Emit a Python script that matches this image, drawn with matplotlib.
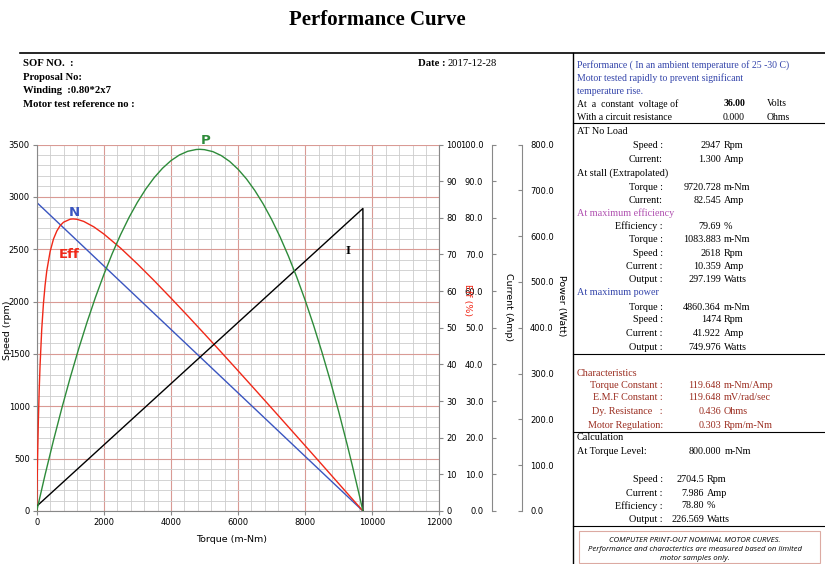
import numpy as np
import matplotlib
matplotlib.use("Agg")
import matplotlib.pyplot as plt
from matplotlib.lines import Line2D
from matplotlib.patches import Rectangle
from matplotlib.ticker import FormatStrFormatter

# speed line (rpm) and current line (A) vs torque (m-Nm)
speed_torque = [0, 9720.728]
speed_rpm = [2947, 0]
current_torque = [0, 9720.728, 9720.728]
current_amp = [1.3, 82.545, 0]

# efficiency curve (%)
eff_torque = [0, 5, 10, 25, 50, 75, 100, 150, 200, 250, 300, 400, 500, 600, 700, 800, 1000, 1084,
              1200, 1400, 1700, 2000, 2500, 3000, 3500, 4000, 4500, 5000, 5500, 6000, 6500, 7000,
              7500, 8000, 8500, 9000, 9400, 9720.728]
eff_pct = [0, 3.19, 6.19, 14.17, 24.8, 33.11, 39.7, 49.58, 56.5, 61.6, 65.5, 70.8, 74.21, 76.4,
           77.88, 78.80, 79.63, 79.69, 79.59, 79.02, 77.54, 75.58, 71.73, 67.42, 62.85, 58.10,
           53.25, 48.31, 43.31, 38.27, 33.19, 28.08, 22.95, 17.81, 12.65, 7.47, 3.33, 0]

# output power curve (W)
power_torque = [0, 250, 500, 750, 1000, 1250, 1500, 1750, 2000, 2250, 2500, 2750, 3000, 3250,
                3500, 3750, 4000, 4250, 4500, 4750, 4860, 5000, 5250, 5500, 5750, 6000, 6250,
                6500, 6750, 7000, 7250, 7500, 7750, 8000, 8250, 8500, 8750, 9000, 9250, 9400,
                9600, 9720.728]
power_w = [0, 75.2, 146.4, 213.6, 276.9, 336.2, 391.5, 442.9, 490.2, 533.7, 573.1, 608.6, 640.1,
           667.6, 691.2, 710.8, 726.5, 738.2, 745.9, 749.6, 750.0, 749.3, 745.2, 737.0, 724.9,
           708.7, 688.7, 664.6, 636.6, 604.6, 568.7, 528.7, 484.9, 437.0, 385.2, 329.4, 269.7,
           205.9, 138.2, 95.7, 36.8, 0]

W, H = 825, 564
def fx(x):
    return x / W
def fy(y):
    return 1 - y / H

serif = "Liberation Serif"
sans = "DejaVu Sans"
gray = "#888888"

fig = plt.figure(figsize=(W / 100, H / 100), dpi=100)

x0, x1, y0, y1 = 36.7, 439.4, 511, 144.5
ax = fig.add_axes([fx(x0), fy(y0), fx(x1) - fx(x0), fy(y1) - fy(y0)])
ax.set_xlim(0, 12000)
ax.set_ylim(0, 3500)
ax.set_xticks(np.arange(0, 12001, 2000))
ax.set_yticks(np.arange(0, 3501, 500))
ax.set_xticks(np.arange(0, 12001, 400), minor=True)
ax.set_yticks(np.arange(0, 3501, 100), minor=True)
ax.grid(which="minor", color="#cccccc", lw=0.6)
ax.grid(which="major", color="#d99a94", lw=0.8)
ax.set_axisbelow(True)
ax.tick_params(which="minor", length=0)
ax.tick_params(which="major", length=3, color=gray, labelsize=6, pad=2)
ax.spines["top"].set_visible(False)
for s in ["left", "bottom", "right"]:
    ax.spines[s].set_color(gray)
    ax.spines[s].set_linewidth(0.8)
ax.plot(speed_torque, speed_rpm, color="#3a55c0", lw=1.0)

# efficiency axis
ax2 = ax.twinx()
ax2.set_ylim(0, 100)
ax2.set_yticks(np.arange(0, 101, 10))
ax2.tick_params(length=3, color=gray, labelsize=6, pad=2)
for s in ax2.spines.values():
    s.set_visible(False)
ax2.plot(eff_torque, eff_pct, color="#f02818", lw=1.0)

# current axis
ax3 = ax.twinx()
ax3.set_ylim(0, 100)
ax3.set_yticks(np.arange(0, 101, 10))
ax3.yaxis.set_major_formatter(FormatStrFormatter("%.1f"))
ax3.yaxis.set_ticks_position("left")
for s in ax3.spines.values():
    s.set_visible(False)
ax3.spines["left"].set_visible(True)
ax3.spines["left"].set_position(("axes", (491.7 - x0) / (x1 - x0)))
ax3.spines["left"].set_color(gray)
ax3.spines["left"].set_linewidth(0.8)
ax3.tick_params(direction="in", length=3, color=gray, labelsize=6, pad=6)
ax3.plot(current_torque, current_amp, color="black", lw=1.0)

# power axis (labels)
ax4 = ax.twinx()
ax4.set_ylim(0, 800)
ax4.set_yticks(np.arange(0, 801, 100))
ax4.yaxis.set_major_formatter(FormatStrFormatter("%.1f"))
for s in ax4.spines.values():
    s.set_visible(False)
ax4.spines["right"].set_visible(True)
ax4.spines["right"].set_position(("axes", (521.7 - x0) / (x1 - x0)))
ax4.spines["right"].set_color(gray)
ax4.spines["right"].set_linewidth(0.8)
ax4.tick_params(direction="in", length=3, color=gray, labelsize=6, pad=6)

# power curve scale
ax5 = ax.twinx()
ax5.set_ylim(0, 760)
ax5.yaxis.set_visible(False)
for s in ax5.spines.values():
    s.set_visible(False)
ax5.plot(power_torque, power_w, color="#2e8b3a", lw=1.0)

# axis titles
fig.text(fx(7), fy(330), "Speed (rpm)", rotation=90, ha="center", va="center", fontsize=6.8, family=sans)
fig.text(fx(232), fy(539), "Torque (m-Nm)", ha="center", va="center", fontsize=6.8, family=sans)
fig.text(fx(468), fy(300), "Eff (%)", rotation=270, ha="center", va="center", fontsize=6.8,
         family=sans, color="#f02818")
fig.text(fx(508), fy(307), "Current (Amp)", rotation=270, ha="center", va="center", fontsize=6.8, family=sans)
fig.text(fx(561), fy(306), "Power (Watt)", rotation=270, ha="center", va="center", fontsize=6.8, family=sans)

# curve labels
fig.text(fx(74), fy(213), "N", color="#3a55c0", fontsize=9.5, fontweight="bold", ha="center", va="center")
fig.text(fx(69), fy(254), "Eff", color="#f02818", fontsize=9.5, fontweight="bold", ha="center", va="center")
fig.text(fx(206), fy(140), "P", color="#2e8b3a", fontsize=9.5, fontweight="bold", ha="center", va="center")
fig.text(fx(348), fy(251), "I", color="black", fontsize=9.5, fontweight="bold", ha="center", va="center",
         family=serif)

# page header
fig.text(fx(377), fy(20), "Performance Curve", fontsize=15, fontweight="bold", family=serif,
         ha="center", va="center")
fig.add_artist(Line2D([fx(20), 1], [fy(52.5), fy(52.5)], color="black", lw=1.2))
fig.add_artist(Line2D([fx(573), fx(573)], [fy(52.5), 0], color="black", lw=1.0))
for yy in [123, 354, 432, 526]:
    fig.add_artist(Line2D([fx(573), 1], [fy(yy), fy(yy)], color="black", lw=0.8))

hdr = ["SOF NO.  :", "Proposal No:", "Winding  :0.80*2x7", "Motor test reference no :"]
for i, t in enumerate(hdr):
    fig.text(fx(23), fy(64 + i * 13.4), t, fontsize=7.7, fontweight="bold", family=serif, va="center")
fig.text(fx(418), fy(64), "Date :", fontsize=7.7, fontweight="bold", family=serif, va="center")
fig.text(fx(447), fy(64), "2017-12-28", fontsize=7.7, family=serif, va="center")

# right panel
blue = "#3344aa"
purple = "#b050b0"
brown = "#9b2d20"
fs = 7.3

def left(y, t, c="black", size=fs):
    fig.text(fx(577), fy(y), t, fontsize=size, family=serif, va="center", color=c)

def row(y, label, value, unit, c="black", lx=663, vx=721, ux=724):
    fig.text(fx(lx), fy(y), label, fontsize=fs, family=serif, va="center", ha="right", color=c)
    fig.text(fx(vx), fy(y), value, fontsize=fs, family=serif, va="center", ha="right", color=c)
    fig.text(fx(ux), fy(y), unit, fontsize=fs, family=serif, va="center", ha="left", color=c)

left(65, "Performance ( In an ambient temperature of 25 -30 C)", blue, 7)
left(78, "Motor tested rapidly to prevent significant", blue, 7)
left(91, "temperature rise.", blue, 7)
left(104, "At  a  constant  voltage of", size=7)
fig.text(fx(745), fy(104), "36.00", fontsize=7, family=serif, va="center", ha="right", fontweight="bold")
fig.text(fx(767), fy(104), "Volts", fontsize=7, family=serif, va="center")
left(118, "With a circuit resistance", size=7)
fig.text(fx(745), fy(118), "0.000", fontsize=7, family=serif, va="center", ha="right")
fig.text(fx(767), fy(118), "Ohms", fontsize=7, family=serif, va="center")

left(131, "AT No Load")
row(146, "Speed :", "2947", "Rpm")
row(159, "Current:", "1.300", "Amp")
left(173, "At stall (Extrapolated)")
row(187, "Torque :", "9720.728", "m-Nm")
row(200, "Current:", "82.545", "Amp")
left(213, "At maximum efficiency", purple)
row(226, "Efficiency :", "79.69", "%")
row(240, "Torque :", "1083.883", "m-Nm")
row(254, "Speed :", "2618", "Rpm")
row(267, "Current :", "10.359", "Amp")
row(280, "Output :", "297.199", "Watts")
left(293, "At maximum power", blue)
row(307, "Torque :", "4860.364", "m-Nm")
row(320, "Speed :", "1474", "Rpm")
row(333, "Current :", "41.922", "Amp")
row(347, "Output :", "749.976", "Watts")

left(373, "Characteristics", brown)
row(386, "Torque Constant :", "119.648", "m-Nm/Amp", brown)
row(398, "E.M.F Constant :", "119.648", "mV/rad/sec", brown)
row(412, "Dy. Resistance   :", "0.436", "Ohms", brown)
row(425, "Motor Regulation:", "0.303", "Rpm/m-Nm", brown)

left(438, "Calculation")
left(451, "At Torque Level:")
fig.text(fx(721), fy(451), "800.000", fontsize=fs, family=serif, va="center", ha="right")
fig.text(fx(725), fy(451), "m-Nm", fontsize=fs, family=serif, va="center")
row(479, "Speed :", "2704.5", "Rpm", vx=704, ux=707)
row(493, "Current :", "7.986", "Amp", vx=704, ux=707)
row(506, "Efficiency :", "78.80", "%", vx=704, ux=707)
row(519, "Output :", "226.569", "Watts", vx=704, ux=707)

fig.add_artist(Rectangle((fx(579), fy(563)), fx(820) - fx(579), fy(531) - fy(563),
                         fill=False, edgecolor="#dcaaa2", lw=0.8))
disc = ["COMPUTER PRINT-OUT NOMINAL MOTOR CURVES.",
        "Performance and charactertics are measured based on limited",
        "motor samples only."]
for i, t in enumerate(disc):
    fig.text(fx(695), fy(540 + i * 9.3), t, fontsize=5.6, style="italic", family="Open Sans",
             ha="center", va="center")

fig.savefig("out.png", dpi=100)
